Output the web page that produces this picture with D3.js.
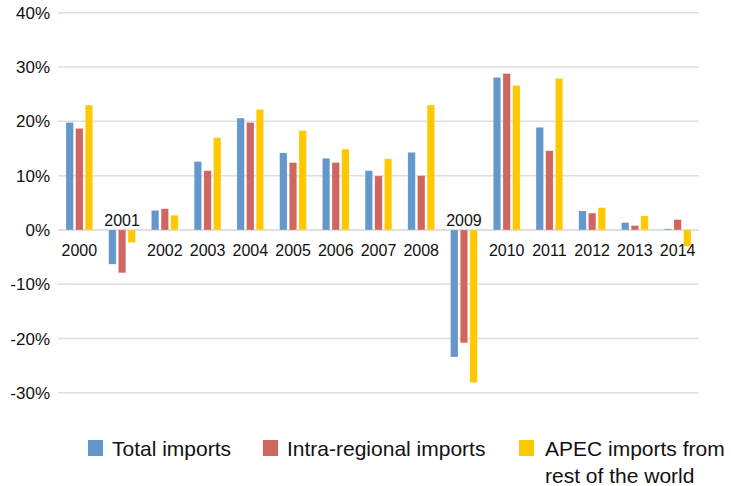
<!DOCTYPE html>
<html><head><meta charset="utf-8">
<script src="https://cdn.jsdelivr.net/npm/d3@7"></script>
<style>body{margin:0;background:#fff}svg{display:block;font-family:"Liberation Sans",Helvetica,Arial,sans-serif}</style>
</head><body><svg id="c" width="731" height="486"></svg>
<script>
const years = ["2000","2001","2002","2003","2004","2005","2006","2007","2008","2009","2010","2011","2012","2013","2014"];
const seriesNames = ["Total imports","Intra-regional imports","APEC imports from rest of the world"];
const totalImports = [19.8,-6.3,3.6,12.6,20.6,14.2,13.2,10.9,14.3,-23.4,28.1,18.9,3.5,1.35,0.2];
const intraRegional = [18.7,-7.9,3.9,10.9,19.8,12.4,12.4,9.95,10.0,-20.8,28.8,14.6,3.1,0.8,1.9];
const restOfWorld = [23.0,-2.3,2.7,17.0,22.2,18.3,14.9,13.1,23.0,-28.1,26.6,27.9,4.1,2.6,-3.0];
const yTicks = [-30,-20,-10,0,10,20,30,40];
const colors = ["#6497CB","#CF665F","#FFC800"];

const series = [totalImports, intraRegional, restOfWorld];
const svg = d3.select("#c");
const y = d3.scaleLinear().domain([-30,40]).range([392.8,12.8]);
const x0 = d3.scaleBand().domain(years).range([58,699]).padding(0);
const x1 = d3.scaleBand().domain(d3.range(3)).range([8,34.7]).paddingInner(0.233).paddingOuter(0);

// gridlines
svg.append("g").selectAll("line").data(yTicks).join("line")
  .attr("x1",58).attr("x2",699).attr("y1",d=>y(d)).attr("y2",d=>y(d))
  .attr("stroke",d=>d===0?"#d4d4d4":"#dedede").attr("stroke-width",1.5);

// y labels
svg.append("g").selectAll("text").data(yTicks).join("text")
  .attr("x",50).attr("y",d=>y(d)).attr("dy","0.36em").attr("text-anchor","end")
  .attr("font-size",17).attr("fill","#111").text(d=>d+"%");

// bars
const g = svg.append("g").selectAll("g").data(years).join("g")
  .attr("transform",d=>`translate(${x0(d)},0)`);
g.selectAll("rect").data((d,i)=>series.map((s,k)=>({k,v:s[i]}))).join("rect")
  .attr("x",d=>x1(d.k)).attr("width",x1.bandwidth())
  .attr("y",d=>y(Math.max(0,d.v))).attr("height",d=>Math.abs(y(d.v)-y(0)))
  .attr("fill",d=>colors[d.k]).attr("stroke","#ffffff").attr("stroke-opacity",0.35).attr("stroke-width",0.6);

// year labels
svg.append("g").selectAll("text").data(years).join("text")
  .attr("x",d=>x0(d)+x0.bandwidth()/2)
  .attr("y",(d,i)=>totalImports[i]<0 ? y(0)-4 : y(0)+26)
  .attr("text-anchor","middle").attr("font-size",16).attr("fill","#111").text(d=>d);

// legend
const leg = [
  {x:88, tx:112, lines:[seriesNames[0]]},
  {x:263, tx:287, lines:[seriesNames[1]]},
  {x:519, tx:545, lines:["APEC imports from","rest of the world"]}
];
const lg = svg.append("g");
leg.forEach((l,i)=>{
  lg.append("rect").attr("x",l.x).attr("y",440).attr("width",15).attr("height",16).attr("fill",colors[i]);
  const t = lg.append("text").attr("x",l.tx).attr("y",456).attr("font-size",21).attr("fill","#111");
  l.lines.forEach((s,j)=>t.append("tspan").attr("x",l.tx).attr("dy",j===0?0:27).text(s));
});
</script></body></html>
